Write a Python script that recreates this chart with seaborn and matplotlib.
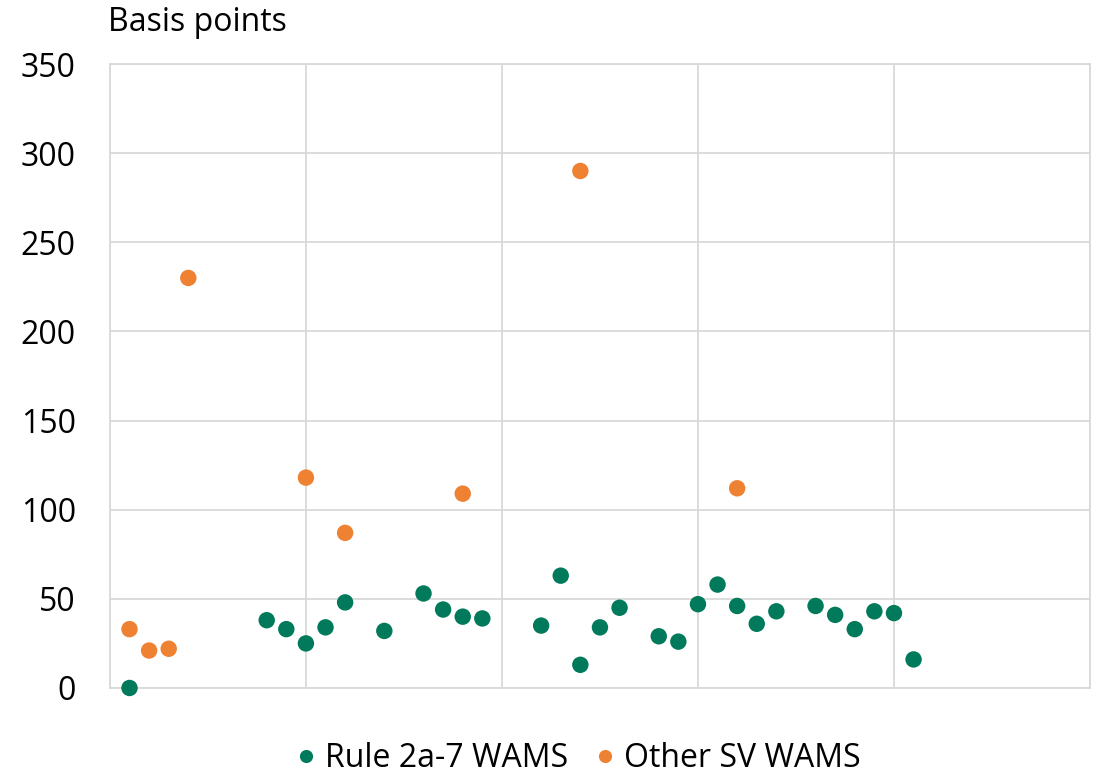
import pandas as pd
import matplotlib
matplotlib.use("Agg")
from matplotlib import pyplot as plt
import seaborn as sns

# Rule 2a-7 WAMS
rule_x = [1, 8, 9, 10, 11, 12, 14, 16, 17, 18, 19, 22, 23, 24, 25, 26, 28, 29,
          30, 31, 32, 33, 34, 36, 37, 38, 39, 40, 41]
rule_y = [0, 38, 33, 25, 34, 48, 32, 53, 44, 40, 39, 35, 63, 13, 34, 45, 29, 26,
          47, 58, 46, 36, 43, 46, 41, 33, 43, 42, 16]

# Other SV WAMS
other_x = [1, 2, 3, 4, 10, 12, 18, 24, 32]
other_y = [33, 21, 22, 230, 118, 87, 109, 290, 112]

y_ticks = [0, 50, 100, 150, 200, 250, 300, 350]

df = pd.concat([
    pd.DataFrame({"x": rule_x, "y": rule_y, "series": "Rule 2a-7 WAMS"}),
    pd.DataFrame({"x": other_x, "y": other_y, "series": "Other SV WAMS"}),
])

sns.set_style("white")
plt.rcParams["font.family"] = ["Open Sans", "DejaVu Sans"]
plt.rcParams["text.color"] = "black"
plt.rcParams["ytick.color"] = "black"

fig, ax = plt.subplots(figsize=(10.99, 7.73), dpi=100)
fig.subplots_adjust(left=0.100, right=0.9918, top=0.9172, bottom=0.110)

sns.scatterplot(data=df, x="x", y="y", hue="series",
                palette={"Rule 2a-7 WAMS": "#007A5A", "Other SV WAMS": "#EF8133"},
                s=140, linewidth=0, ax=ax, clip_on=False, zorder=3, legend=True)

ax.set_xlim(0, 50)
ax.set_ylim(0, 350)
ax.set_xticks(range(0, 51, 10))
ax.set_xticklabels([])
ax.set_yticks(y_ticks)
ax.tick_params(axis="y", labelsize=23, length=0, pad=24.5, labelcolor="black")
ax.tick_params(axis="x", length=0)
ax.grid(True, color="#D9D9D9", linewidth=1.3)
ax.set_axisbelow(True)
for sp in ax.spines.values():
    sp.set_color("#D9D9D9")
    sp.set_linewidth(1.3)
ax.set_xlabel("")
ax.set_ylabel("")
ax.text(-0.002, 1.04, "Basis points", transform=ax.transAxes, fontsize=23,
        ha="left", va="bottom", color="black")

handles, labels = ax.get_legend_handles_labels()
ax.legend_.remove()
fig.legend(handles, labels, loc="center", bbox_to_anchor=(0.522, 0.019), ncol=2,
           frameon=False, fontsize=23, markerscale=0.8, handletextpad=0.0,
           handlelength=1.2, columnspacing=0.55, borderpad=0)

plt.savefig("out.png", dpi=100)
